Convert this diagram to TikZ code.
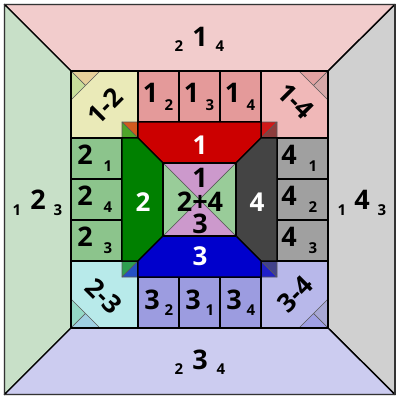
\documentclass[tikz,border=0pt]{standalone}
\usepackage{fontspec}
\setmainfont{Open Sans}
\definecolor{otop}{HTML}{F2CCCC}
\definecolor{oleft}{HTML}{C8E0C8}
\definecolor{oright}{HTML}{D0D0D0}
\definecolor{obot}{HTML}{CCCCF0}
\definecolor{ctop}{HTML}{E49A9A}
\definecolor{cleft}{HTML}{8CC48C}
\definecolor{cright}{HTML}{A0A0A0}
\definecolor{cbot}{HTML}{9C9CE0}
\definecolor{k12}{HTML}{EAEAB8}
\definecolor{k14}{HTML}{F0B8B8}
\definecolor{k23}{HTML}{B8EAEA}
\definecolor{k34}{HTML}{B8B8EA}
\definecolor{tred}{HTML}{CC0000}
\definecolor{tgreen}{HTML}{008000}
\definecolor{tgrey}{HTML}{444444}
\definecolor{tblue}{HTML}{0000CC}
\definecolor{mpurple}{HTML}{CC99CC}
\definecolor{mgreen}{HTML}{99CC99}
\definecolor{ta12}{HTML}{E6CF9A}
\definecolor{tb12}{HTML}{C8DD9A}
\definecolor{sa12}{HTML}{D25A1E}
\definecolor{sb12}{HTML}{4FA52A}
\definecolor{ta14}{HTML}{E3A2A2}
\definecolor{tb14}{HTML}{D6A8A8}
\definecolor{sa14}{HTML}{D01818}
\definecolor{sb14}{HTML}{8C3C3C}
\definecolor{ta23}{HTML}{94D9C6}
\definecolor{tb23}{HTML}{A0D0E2}
\definecolor{sa23}{HTML}{2E9E50}
\definecolor{sb23}{HTML}{2450C4}
\definecolor{ta34}{HTML}{A8A8D4}
\definecolor{tb34}{HTML}{A0A0E4}
\definecolor{sa34}{HTML}{2020C8}
\definecolor{sb34}{HTML}{42428A}
\begin{document}
\begin{tikzpicture}[x=1pt,y=-1pt,
  cell/.style={draw=black,line width=1.4pt,line join=round},
  thin/.style={draw=black!65,line width=0.6pt,line join=round},
  big/.style={inner sep=0pt,font=\fontsize{27}{27}\selectfont\bfseries},
  sub/.style={inner sep=0pt,font=\fontsize{15}{15}\selectfont\bfseries},
  wlab/.style={inner sep=0pt,text=white,font=\fontsize{26}{26}\selectfont\bfseries},
  klab/.style={inner sep=0pt,font=\fontsize{26}{26}\selectfont\bfseries}]
\useasboundingbox (0,0) rectangle (400,400);
% outer faces
\path[cell,fill=otop] (4.5,4.5) -- (395,4.5) -- (328,71) -- (71,71) -- cycle;
\path[cell,fill=oleft] (4.5,4.5) -- (71,71) -- (71,328) -- (4.5,394.5) -- cycle;
\path[cell,fill=oright] (395,4.5) -- (395,394.5) -- (328,328) -- (328,71) -- cycle;
\path[cell,fill=obot] (4.5,394.5) -- (395,394.5) -- (328,328) -- (71,328) -- cycle;
\draw[draw=black!80,line width=1.8pt] (4.5,4.5) rectangle (395,394.5);
% edge cells
\foreach \x in {138,179,220}{
  \path[cell,fill=ctop] (\x,71) rectangle (\x+41,122);
  \path[cell,fill=cbot] (\x,277) rectangle (\x+41,328);
}
\foreach \y in {138,179,220}{
  \path[cell,fill=cleft] (71,\y) rectangle (122,\y+41);
  \path[cell,fill=cright] (277,\y) rectangle (328,\y+41);
}
% corner cells
\fill[k12] (71,71) rectangle (138,138);
\fill[k14] (261,71) rectangle (328,138);
\fill[k23] (71,261) rectangle (138,328);
\fill[k34] (261,261) rectangle (328,328);
% outer small triangles
\path[thin,fill=ta12] (71,71) -- (100,71) -- (85.5,85.5) -- cycle;
\path[thin,fill=tb12] (71,71) -- (85.5,85.5) -- (71,100) -- cycle;
\path[thin,fill=ta14] (328,71) -- (299,71) -- (313.5,85.5) -- cycle;
\path[thin,fill=tb14] (328,71) -- (313.5,85.5) -- (328,100) -- cycle;
\path[thin,fill=ta23] (71,328) -- (71,299) -- (85.5,313.5) -- cycle;
\path[thin,fill=tb23] (71,328) -- (85.5,313.5) -- (100,328) -- cycle;
\path[thin,fill=ta34] (328,328) -- (328,299) -- (313.5,313.5) -- cycle;
\path[thin,fill=tb34] (328,328) -- (313.5,313.5) -- (299,328) -- cycle;
% inner small squares
\path[thin,fill=sa12] (122,122) -- (138,122) -- (138,138) -- cycle;
\path[thin,fill=sb12] (122,122) -- (122,138) -- (138,138) -- cycle;
\path[thin,fill=sa14] (261,122) -- (277,122) -- (261,138) -- cycle;
\path[thin,fill=sb14] (277,122) -- (277,138) -- (261,138) -- cycle;
\path[thin,fill=sa23] (122,261) -- (138,261) -- (122,277) -- cycle;
\path[thin,fill=sb23] (138,261) -- (138,277) -- (122,277) -- cycle;
\path[thin,fill=sa34] (261,261) -- (261,277) -- (277,277) -- cycle;
\path[thin,fill=sb34] (261,261) -- (277,261) -- (277,277) -- cycle;
\path[cell] (71,71) rectangle (138,138);
\path[cell] (261,71) rectangle (328,138);
\path[cell] (71,261) rectangle (138,328);
\path[cell] (261,261) rectangle (328,328);
% trapezoids
\path[cell,fill=tred] (138,122) -- (261,122) -- (261,138) -- (236,163) -- (163,163) -- (138,138) -- cycle;
\path[cell,fill=tgreen] (122,138) -- (138,138) -- (163,163) -- (163,236) -- (138,261) -- (122,261) -- cycle;
\path[cell,fill=tgrey] (277,138) -- (277,261) -- (261,261) -- (236,236) -- (236,163) -- (261,138) -- cycle;
\path[cell,fill=tblue] (138,277) -- (261,277) -- (261,261) -- (236,236) -- (163,236) -- (138,261) -- cycle;
% centre
\path[thin,fill=mpurple] (163,163) -- (236,163) -- (199.5,199.5) -- cycle;
\path[thin,fill=mpurple] (163,236) -- (236,236) -- (199.5,199.5) -- cycle;
\path[thin,fill=mgreen] (163,163) -- (163,236) -- (199.5,199.5) -- cycle;
\path[thin,fill=mgreen] (236,163) -- (236,236) -- (199.5,199.5) -- cycle;
\path[cell] (163,163) rectangle (236,236);
% outer labels
\node[big] (ot) at (200,37) {1};
\node[sub] (ot2) at (179,46) {2};
\node[sub] (ot4) at (220,46) {4};
\node[big] (ob) at (200,360) {3};
\node[sub] (ob2) at (179,369) {2};
\node[sub] (ob4) at (221,369) {4};
\node[big] (ol) at (38,200) {2};
\node[sub] (ol1) at (17,210) {1};
\node[sub] (ol3) at (58,210) {3};
\node[big] (or) at (362,200) {4};
\node[sub] (or1) at (342,210) {1};
\node[sub] (or3) at (382,210) {3};
% edge cell labels
\foreach \x/\s [count=\i] in {138/2,179/3,220/4}{
  \node[big] (tl\i) at (\x+12.5,93) {1};
  \node[sub] (ts\i) at (\x+31,105) {\s};
}
\foreach \x/\s [count=\i] in {138/2,179/1,220/4}{
  \node[big] (bl\i) at (\x+14,300) {3};
  \node[sub] (bs\i) at (\x+31,310) {\s};
}
\foreach \y/\s [count=\i] in {138/1,179/4,220/3}{
  \node[big] (ll\i) at (85,\y+17) {2};
  \node[sub] (ls\i) at (108,\y+28) {\s};
}
\foreach \y/\s [count=\i] in {138/1,179/2,220/3}{
  \node[big] (rl\i) at (289,\y+17) {4};
  \node[sub] (rs\i) at (313,\y+28) {\s};
}
% corner labels
\node[klab,rotate=45] (k12l) at (105,106) {1-2};
\node[klab,rotate=-45] (k14l) at (296,101) {1-4};
\node[klab,rotate=-45] (k23l) at (104,296) {2-3};
\node[klab,rotate=45] (k34l) at (295,294) {3-4};
% trapezoid labels
\node[wlab] (w1) at (200,145) {1};
\node[wlab] (w2) at (143,202) {2};
\node[wlab] (w4) at (257,202) {4};
\node[wlab] (w3) at (200,256) {3};
% centre labels
\node[big] (c1) at (200,178) {1};
\node[big] (c24) at (200,202) {2+4};
\node[big] (c3) at (200,224) {3};
\end{tikzpicture}
\end{document}
